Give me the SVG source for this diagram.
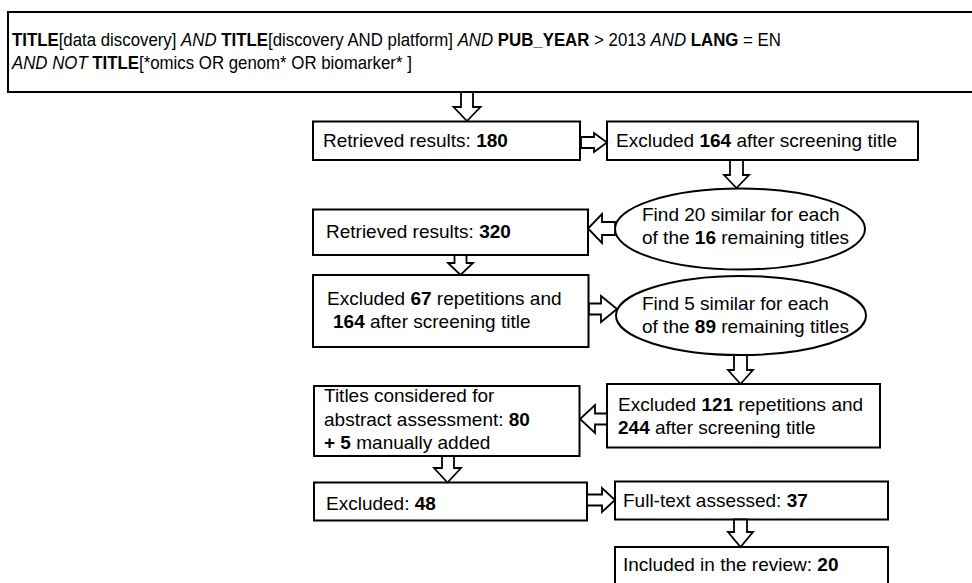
<svg xmlns="http://www.w3.org/2000/svg" width="972" height="583" viewBox="0 0 972 583">
<style>
.box{fill:#fff;stroke:#000;stroke-width:2}
.arr{fill:#fff;stroke:#000;stroke-width:1.8;stroke-linejoin:miter}
text{font-family:"Liberation Sans",Arial,sans-serif;font-size:19px;fill:#000}
.b{font-weight:bold}
.i{font-style:italic}
</style>
<rect width="972" height="583" fill="#fff"/>
<g id="query">
<rect class="box" x="8" y="12" width="975" height="80"/>
<g transform="translate(12,0) scale(0.885,1)">
<text x="0" y="46"><tspan class="b">TITLE</tspan>[data discovery] <tspan class="i">AND</tspan> <tspan class="b">TITLE</tspan>[discovery AND platform] <tspan class="i">AND</tspan> <tspan class="b">PUB_YEAR</tspan> &gt; 2013 <tspan class="i">AND</tspan> <tspan class="b">LANG</tspan> = EN</text>
<text x="0" y="69"><tspan class="i">AND NOT</tspan> <tspan class="b">TITLE</tspan>[*omics OR genom* OR biomarker* ]</text>
</g>
</g>
<g id="retrieved180">
<rect class="box" x="313" y="121.5" width="267" height="38.5"/>
<text x="323" y="147">Retrieved results: <tspan class="b">180</tspan></text>
</g>
<g id="excluded164">
<rect class="box" x="607" y="121.5" width="311" height="38.5"/>
<text x="616" y="147">Excluded <tspan class="b">164</tspan> after screening title</text>
</g>
<g id="find20">
<ellipse class="box" cx="740" cy="229" rx="125" ry="40.5"/>
<text x="642" y="221">Find 20 similar for each</text>
<text x="642" y="244">of the <tspan class="b">16</tspan> remaining titles</text>
</g>
<g id="retrieved320">
<rect class="box" x="313" y="209.5" width="275" height="45.5"/>
<text x="326" y="237.5">Retrieved results: <tspan class="b">320</tspan></text>
</g>
<g id="excluded67">
<rect class="box" x="313" y="275" width="275.5" height="72"/>
<text x="327" y="305">Excluded <tspan class="b">67</tspan> repetitions and</text>
<text x="333" y="328"><tspan class="b">164</tspan> after screening title</text>
</g>
<g id="find5">
<ellipse class="box" cx="741" cy="315.5" rx="125" ry="39.5"/>
<text x="642" y="310">Find 5 similar for each</text>
<text x="642" y="332.5">of the <tspan class="b">89</tspan> remaining titles</text>
</g>
<g id="excluded121">
<rect class="box" x="607" y="384" width="273" height="63.5"/>
<text x="618" y="411">Excluded <tspan class="b">121</tspan> repetitions and</text>
<text x="618" y="433.5"><tspan class="b">244</tspan> after screening title</text>
</g>
<g id="titles">
<rect class="box" x="314" y="386" width="265.5" height="70"/>
<text x="324" y="402">Titles considered for</text>
<text x="324" y="425.5">abstract assessment: <tspan class="b">80</tspan></text>
<text x="324" y="448.5"><tspan class="b">+ 5</tspan> manually added</text>
</g>
<g id="excluded48">
<rect class="box" x="314" y="482.5" width="273" height="38"/>
<text x="326" y="510">Excluded: <tspan class="b">48</tspan></text>
</g>
<g id="fulltext">
<rect class="box" x="615" y="481.5" width="273" height="38"/>
<text x="623" y="507">Full-text assessed: <tspan class="b">37</tspan></text>
</g>
<g id="included">
<rect class="box" x="615" y="547" width="273" height="45"/>
<text x="623" y="571">Included in the review: <tspan class="b">20</tspan></text>
</g>
<g id="connectors">
<polygon class="arr" points="461,92 473,92 473,107 480.5,107 467,121 453.5,107 461,107"/>
<polygon class="arr" points="581,137 594,137 594,133 607,142.5 594,152 594,148 581,148"/>
<polygon class="arr" points="730,160 743,160 743,175 749,175 736.5,188 724,175 730,175"/>
<polygon class="arr" points="615,222 602,222 602,214 588,228.5 602,243 602,235 615,235"/>
<polygon class="arr" points="454.5,255 466.5,255 466.5,263 473,263 460.5,275 448,263 454.5,263"/>
<polygon class="arr" points="589,303.5 601,303.5 601,296 617,309 601,322 601,314.5 589,314.5"/>
<polygon class="arr" points="734,355 747,355 747,370 753,370 740.5,384 728,370 734,370"/>
<polygon class="arr" points="607,413.5 595,413.5 595,405 580,419 595,433 595,424.5 607,424.5"/>
<polygon class="arr" points="442,456 454,456 454,468 461,468 447.5,482.5 434,468 442,468"/>
<polygon class="arr" points="587,494.5 602,494.5 602,488 615,500 602,512 602,505.5 587,505.5"/>
<polygon class="arr" points="734,519.5 747,519.5 747,532 753,532 740.5,547 728,532 734,532"/>
</g>
</svg>
